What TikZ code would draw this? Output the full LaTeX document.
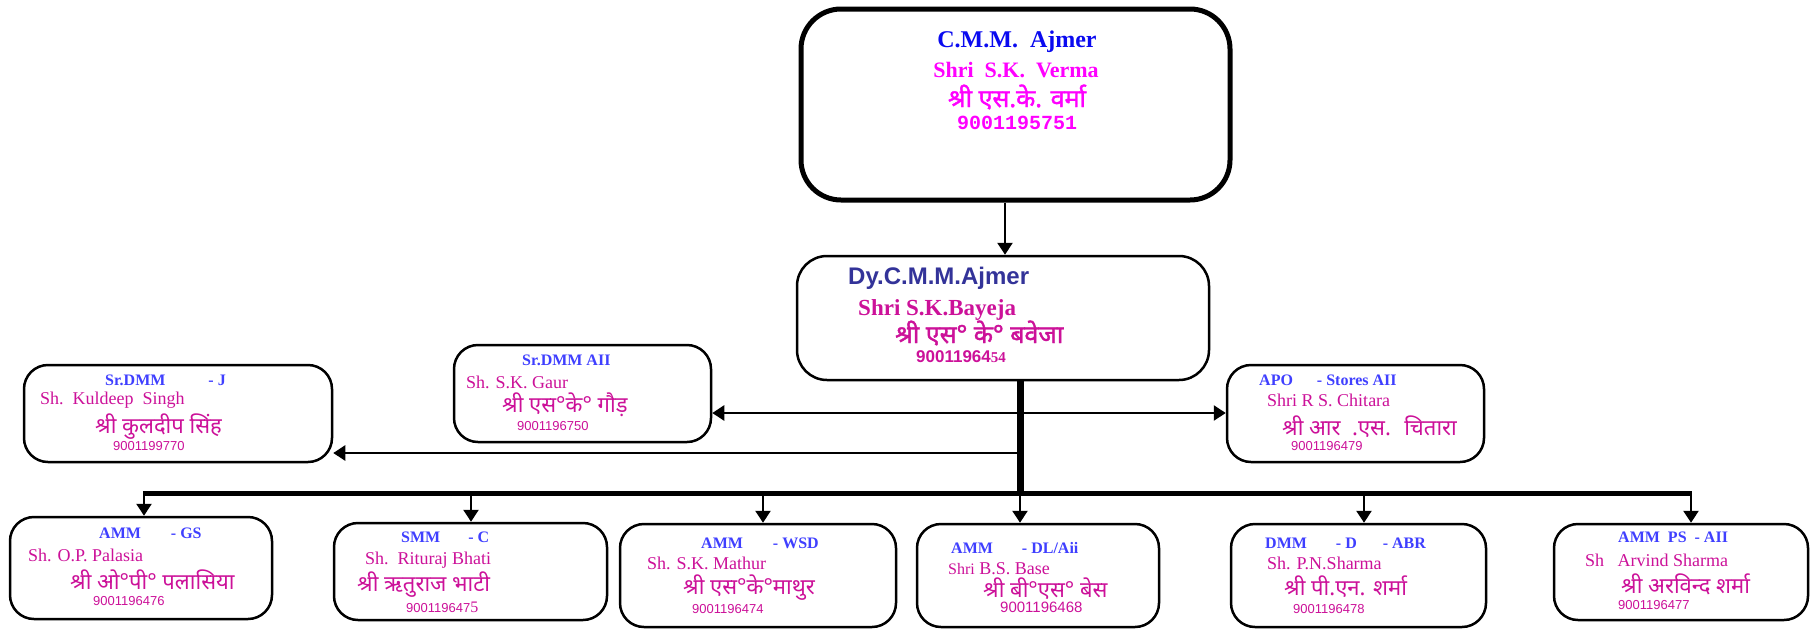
\documentclass[tikz,border=0pt]{standalone}
\usepackage{fontspec}
\setmainfont{Liberation Serif}
\newfontfamily\arialf{Liberation Sans}
\newfontfamily\monof{Liberation Mono}
\newfontfamily\hin[Script=Devanagari]{Noto Sans}
\newfontfamily\hinb[Script=Devanagari,FakeBold=1.6]{Noto Sans}
\usetikzlibrary{arrows.meta}
\definecolor{tblue}{HTML}{3F3FFF}
\definecolor{pblue}{HTML}{0A0AF0}
\definecolor{dyblue}{HTML}{333399}
\definecolor{nmag}{HTML}{CC1199}
\definecolor{pmag}{HTML}{FF00FF}
\newcommand\fs[1]{\fontsize{#1}{#1}\selectfont}
\begin{document}
\begin{tikzpicture}[x=1pt,y=-1pt,
  box/.style={draw, line width=2.5pt, rounded corners=24pt, inner sep=0pt},
  ttl/.style={text=tblue, font=\bfseries\fs{16}, inner sep=0pt, anchor=west},
  nm/.style={text=nmag, font=\fs{18}, inner sep=0pt, anchor=west},
  hn/.style={text=nmag, font=\hin\fs{22}, inner sep=0pt, anchor=west},
  ph/.style={text=nmag, font=\arialf\fs{13}, inner sep=0pt, anchor=west},
  arr/.style={line width=2.5pt, -{Triangle[length=12pt,width=15pt]}},
  arrb/.style={line width=2.5pt, {Triangle[length=12pt,width=15pt]}-{Triangle[length=12pt,width=15pt]}}]
\useasboundingbox (0,0) rectangle (1811,630);
\fill[white] (0,0) rectangle (1811,630);

% boxes
\node[box, line width=5pt, rounded corners=40pt, minimum width=429pt, minimum height=191pt] (cmm) at (1015.5,104.5) {};
\node[box, rounded corners=30pt, minimum width=412pt, minimum height=124pt] (dy) at (1003,318) {};
\node[box, minimum width=308pt, minimum height=97pt] (kul) at (178,413.5) {};
\node[box, minimum width=257pt, minimum height=97pt] (gaur) at (582.5,393.5) {};
\node[box, minimum width=257pt, minimum height=97pt] (chit) at (1355.5,413.5) {};
\node[box, minimum width=262pt, minimum height=102pt] (b1) at (141,568) {};
\node[box, minimum width=273pt, minimum height=97pt] (b2) at (470.5,571.5) {};
\node[box, minimum width=276pt, minimum height=103pt] (b3) at (758,575.5) {};
\node[box, minimum width=242pt, minimum height=103pt] (b4) at (1038,575.5) {};
\node[box, minimum width=255pt, minimum height=103pt] (b5) at (1358.5,575.5) {};
\node[box, minimum width=254pt, minimum height=96pt] (b6) at (1681,572) {};

% connectors
\coordinate (c0) at (1005,0);
\coordinate (j0) at (1020,493);
\coordinate (m0) at (1020,413);
\coordinate (k0) at (1020,453);
\coordinate (a1) at (144,493);
\coordinate (a2) at (471,493);
\coordinate (a3) at (763,493);
\coordinate (a4) at (1020,493);
\coordinate (a5) at (1364,493);
\coordinate (a6) at (1691,493);
\draw[arr] (cmm.south -| c0) -- (dy.north -| c0);
\draw[line width=7pt] (dy.south -| j0) -- (j0);
\draw[line width=5pt] ([xshift=-1.25pt]a1) -- ([xshift=1.25pt]a6);
\draw[arrb] (gaur.east |- m0) -- (chit.west |- m0);
\draw[arr] (k0) -- (k0 -| kul.east);
\foreach \i in {1,...,6}{\draw[arr] (a\i) -- (a\i |- b\i.north);}

% top box texts
\node[inner sep=0pt, text=pblue, font=\bfseries\fs{24}] (t1) at (1017,42) {C.M.M.\ \ Ajmer};
\node[inner sep=0pt, text=pmag, font=\bfseries\fs{22}] (t2) at (1016,70) {Shri\ \ S.K.\ \ Verma};
\node[inner sep=0pt, text=pmag, font=\hinb\fs{25}] (t3) at (1017,97) {श्री एस.के. वर्मा};
\node[inner sep=0pt, text=pmag, font=\monof\bfseries\fs{20}] (t4) at (1017,123) {9001195751};

% Dy box texts
\node[inner sep=0pt, anchor=west, text=dyblue, font=\arialf\bfseries\fs{24}] (d1) at (848,278) {Dy.C.M.M.Ajmer};
\node[inner sep=0pt, anchor=west, text=nmag, font=\bfseries\fs{23}] (d2) at (858,310) {Shri S.K.Bayeja};
\node[inner sep=0pt, anchor=west, text=nmag, font=\hinb\fs{25}] (d3) at (895,333) {श्री एस° के° बवेजा};
\node[inner sep=0pt, anchor=west, text=nmag, font=\arialf\bfseries\fs{17}] (d4) at (916,357) {90011964{\rmfamily\fs{15}54}};

% Kuldeep
\node[ttl] (kt) at (105,380) {Sr.DMM\hspace{43pt}- J};
\node[nm] (kn) at (40,400) {Sh.\ \ Kuldeep\ \ Singh};
\node[hn] (kh) at (95,427) {श्री कुलदीप सिंह};
\node[ph] (kp) at (113,446) {9001199770};

% Gaur
\node[ttl] (gt) at (522,360) {Sr.DMM AII};
\node[nm] (gn) at (466,382) {Sh. S.K. Gaur};
\node[hn] (gh) at (502,405) {श्री एस°के° गौड़};
\node[ph] (gp) at (517,426) {9001196750};

% Chitara
\node[ttl] (ct) at (1259,380) {APO\hspace{24pt}- Stores AII};
\node[nm] (cn) at (1267,400) {Shri R S. Chitara};
\node[hn] (ch) at (1282,427) {श्री आर \ .एस. \ चितारा};
\node[ph] (cp) at (1291,446) {9001196479};

% b1
\node[ttl] (b1t) at (99,533) {AMM\hspace{30pt}- GS};
\node[nm] (b1n) at (28,555) {Sh. O.P. Palasia};
\node[hn] (b1h) at (70,580) {श्री ओ°पी° पलासिया};
\node[ph] (b1p) at (93,601) {9001196476};

% b2
\node[ttl] (b2t) at (401,537) {SMM\hspace{28pt}- C};
\node[nm] (b2n) at (365,560) {Sh.\ \ Rituraj Bhati};
\node[hn] (b2h) at (357,585) {श्री ऋतुराज भाटी};
\node[ph] (b2p) at (406,607) {900119647{\rmfamily\fs{16}5}};

% b3
\node[ttl] (b3t) at (701,543) {AMM\hspace{30pt}- WSD};
\node[nm] (b3n) at (647,563) {Sh. S.K. Mathur};
\node[hn] (b3h) at (683,588) {श्री एस°के°माथुर};
\node[ph] (b3p) at (692,609) {9001196474};

% b4
\node[ttl] (b4t) at (951,548) {AMM\hspace{29pt}- DL/Aii};
\node[nm] (b4n) at (948,569) {{\fs{16}Shri} B.S. Base};
\node[hn] (b4h) at (983,589) {श्री बी°एस° बेस};
\node[ph, font=\arialf\fs{15}] (b4p) at (1000,607) {9001196468};

% b5
\node[ttl] (b5t) at (1265,543) {DMM\hspace{29pt}- D\hspace{26pt}- ABR};
\node[nm] (b5n) at (1267,563) {Sh. P.N.Sharma};
\node[hn] (b5h) at (1284,587) {श्री पी.एन. शर्मा};
\node[ph] (b5p) at (1293,609) {9001196478};

% b6
\node[ttl] (b6t) at (1618,537) {AMM\ \ PS\ \ - AII};
\node[nm] (b6n) at (1585,560) {Sh\ \ \ Arvind Sharma};
\node[hn] (b6h) at (1621,584) {श्री अरविन्द शर्मा};
\node[ph] (b6p) at (1618,605) {9001196477};
\end{tikzpicture}
\end{document}
